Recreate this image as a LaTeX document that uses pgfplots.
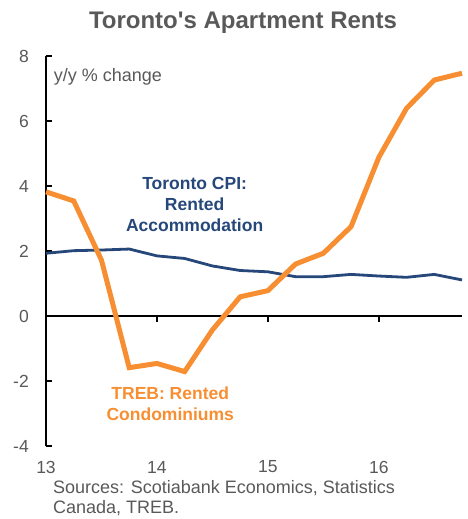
\documentclass[border=0pt]{standalone}
\usepackage{fontspec}
\setmainfont{Liberation Sans}
\usepackage{pgfplots}
\pgfplotsset{compat=1.18}
\definecolor{treborange}{RGB}{247,143,50}
\definecolor{cpiblue}{RGB}{38,71,122}
\definecolor{txtgray}{RGB}{89,89,89}

\begin{document}
\begin{tikzpicture}
\useasboundingbox (-46pt,-73pt) rectangle (421pt,446pt);
\begin{axis}[
  at={(0,0)}, anchor=south west,
  scale only axis, width=416pt, height=390pt,
  xmin=13, xmax=16.75, ymin=-4, ymax=8,
  axis lines*=left,
  x axis line style={draw=none},
  y axis line style={line width=1.8pt, black},
  xtick={13,14,15,16}, xticklabels={13,14,15,16},
  ytick={-4,-2,0,2,4,6,8}, yticklabels={-4,-2,0,2,4,6,8},
  xtick style={draw=none},
  ytick style={line width=1.6pt, black},
  tick align=inside, major tick length=6pt,
  tick label style={font=\fontsize{17.5}{20}\selectfont, text=txtgray},
  xticklabel style={anchor=center, yshift=-21pt},
  yticklabel style={anchor=east, inner sep=0pt, xshift=-17pt},
  clip=false,
]
% zero line with its ticks
\draw[line width=1.8pt] (axis cs:13,0) -- (axis cs:16.75,0);
\draw[line width=1.6pt] (axis cs:14,0) -- ++(0pt,-6pt);
\draw[line width=1.6pt] (axis cs:15,0) -- ++(0pt,-6pt);
\draw[line width=1.6pt] (axis cs:16,0) -- ++(0pt,-6pt);

% Toronto CPI: rented accommodation
\addplot[cpiblue, line width=2.8pt, no marks] coordinates {
(13.00,1.93) (13.25,2.01) (13.50,2.03) (13.75,2.06)
(14.00,1.85) (14.25,1.77) (14.50,1.54) (14.75,1.40)
(15.00,1.36) (15.25,1.21) (15.50,1.21) (15.75,1.28)
(16.00,1.23) (16.25,1.19) (16.50,1.28) (16.75,1.11)};

% TREB: rented condominiums
\addplot[treborange, line width=5pt, no marks] coordinates {
(13.00,3.82) (13.25,3.54) (13.50,1.72) (13.75,-1.59)
(14.00,-1.46) (14.25,-1.71) (14.50,-0.43) (14.75,0.59)
(15.00,0.78) (15.25,1.60) (15.50,1.93) (15.75,2.75)
(16.00,4.88) (16.25,6.39) (16.50,7.26) (16.75,7.47)};

\node[anchor=west, inner sep=0pt, text=txtgray, font=\fontsize{18}{21}\selectfont]
  at (axis cs:13.07,7.35) {y/y \% change};
\node[align=center, inner sep=0pt, text=cpiblue, font=\bfseries\fontsize{17.5}{21}\selectfont]
  at (axis cs:14.34,3.42) {Toronto CPI:\\Rented\\Accommodation};
\node[align=center, inner sep=0pt, text=treborange, font=\bfseries\fontsize{17.5}{21}\selectfont]
  at (axis cs:14.12,-2.69) {TREB: Rented\\Condominiums};
\end{axis}
\node[text=txtgray, font=\bfseries\fontsize{24}{28}\selectfont] at (197pt,423pt) {Toronto\textquotesingle s Apartment Rents};
\node[anchor=west, align=left, inner sep=0pt, text=txtgray, font=\fontsize{18}{20}\selectfont]
  at (7pt,-52pt) {Sources: Scotiabank Economics, Statistics\\Canada, TREB.};
\end{tikzpicture}
\end{document}
